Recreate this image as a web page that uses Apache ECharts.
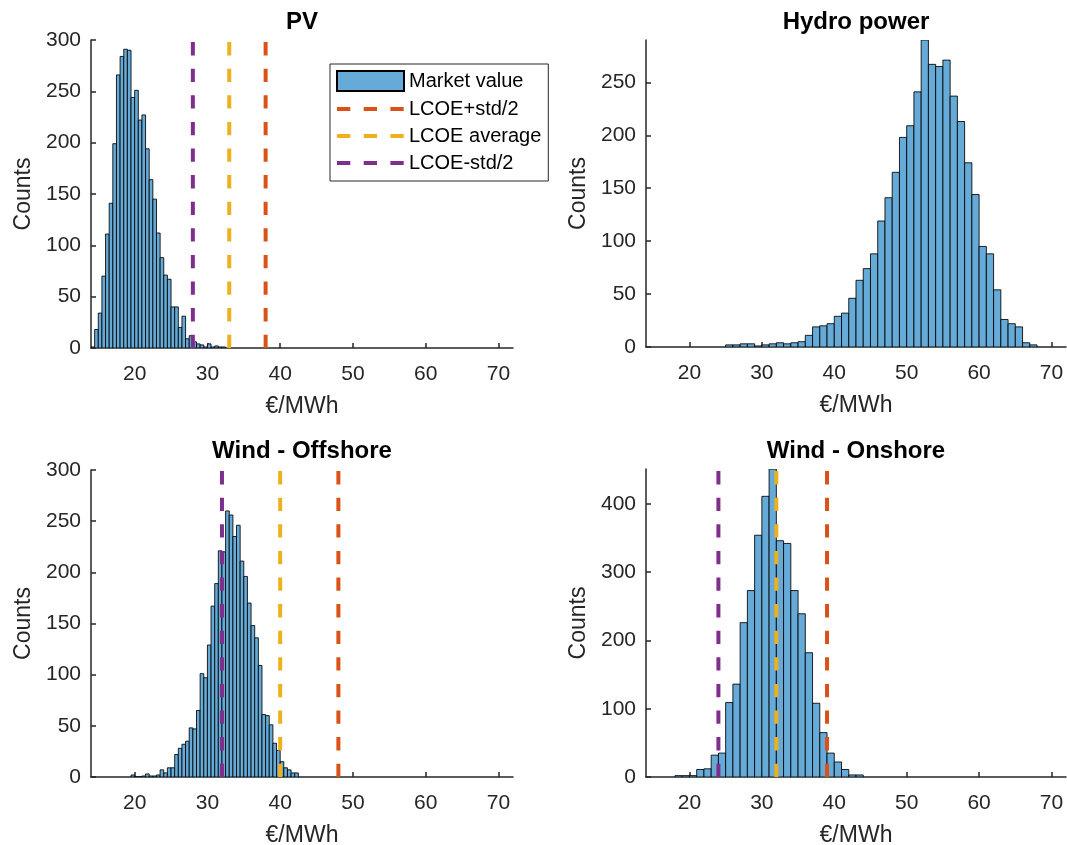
<!DOCTYPE html>
<html><head><meta charset="utf-8">
<script src="https://cdn.jsdelivr.net/npm/echarts@6/dist/echarts.min.js"></script>
<style>html,body{margin:0;padding:0;background:#fff}#main{width:1067px;height:845px}</style>
</head><body><div id="main"></div>
<script>
// ---- data ----
const titles = ['PV', 'Hydro power', 'Wind - Offshore', 'Wind - Onshore'];
const xTicks = [20, 30, 40, 50, 60, 70];
const xMin = 14, xMax = 72;
const yMaxes = [300, 290, 300, 451];
const yTicksPV = [0, 50, 100, 150, 200, 250, 300];
const yTicksHydro = [0, 50, 100, 150, 200, 250];
const yTicksOff = [0, 50, 100, 150, 200, 250, 300];
const yTicksOn = [0, 100, 200, 300, 400];

const pvBinStart = 14.0, pvBinWidth = 0.5;
const pvCounts = [1, 18, 34, 70, 111, 141, 199, 266, 284, 291, 290, 244, 251, 222, 227, 194, 164, 145, 112, 88, 71, 67, 40, 40, 20, 31, 9, 12, 6, 4, 3, 1, 4, 1, 2, 1, 1];
const hydroBinStart = 25, hydroBinWidth = 1;
const hydroCounts = [2, 2, 3, 3, 1, 2, 3, 4, 3, 4, 5, 11, 19, 20, 22, 29, 32, 46, 63, 74, 88, 119, 141, 165, 198, 209, 241, 290, 267, 265, 271, 237, 213, 174, 144, 95, 88, 54, 26, 22, 19, 4, 2];
const offBinStart = 19.5, offBinWidth = 0.5;
const offCounts = [2, 0, 0, 1, 3, 1, 1, 2, 7, 4, 9, 9, 22, 28, 32, 35, 48, 47, 65, 101, 97, 129, 167, 189, 221, 220, 260, 256, 235, 246, 211, 196, 170, 148, 136, 109, 61, 60, 51, 33, 26, 15, 9, 7, 4, 4];
const onBinStart = 18, onBinWidth = 1;
const onCounts = [2, 2, 2, 11, 12, 32, 35, 109, 136, 226, 273, 354, 411, 451, 346, 342, 273, 239, 182, 108, 65, 35, 22, 11, 3, 3];

const lineNames = ['LCOE+std/2', 'LCOE average', 'LCOE-std/2'];
const pvLcoe = [38, 33, 28];
const offLcoe = [48, 40, 32];
const onLcoe = [39, 32, 24];

// ---- styling ----
const FONT = "'Liberation Sans', Arial, Helvetica, sans-serif";
const AX = '#262626';
const barFill = '#66AAD7';
const lineColors = ['#D95319', '#EDB120', '#7E2F8E'];
const grids = [
  {left: 91, top: 40, width: 422, height: 308, containLabel: false, outerBoundsMode: 'none'},
  {left: 646, top: 40, width: 420, height: 307, containLabel: false, outerBoundsMode: 'none'},
  {left: 91, top: 470, width: 422, height: 307, containLabel: false, outerBoundsMode: 'none'},
  {left: 646, top: 469, width: 420, height: 308, containLabel: false, outerBoundsMode: 'none'}
];
const yTicks = [yTicksPV, yTicksHydro, yTicksOff, yTicksOn];
const dashIcon = 'path://M0,0h0.01v0.01h-0.01z M0,8h13.3v4h-13.3z M26.7,8h13.3v4h-13.3z M53.4,8h13.3v4h-13.3z M66.99,19.99h0.01v0.01h-0.01z';

function binData(start, width, counts) {
  return counts.map((c, i) => [start + i * width, start + (i + 1) * width, c]);
}
const hists = [
  binData(pvBinStart, pvBinWidth, pvCounts),
  binData(hydroBinStart, hydroBinWidth, hydroCounts),
  binData(offBinStart, offBinWidth, offCounts),
  binData(onBinStart, onBinWidth, onCounts)
];
const lcoes = [pvLcoe, null, offLcoe, onLcoe];

function renderBar(params, api) {
  const p0 = api.coord([api.value(0), api.value(2)]);
  const p1 = api.coord([api.value(1), 0]);
  return {
    type: 'rect',
    shape: {x: p0[0], y: p0[1], width: p1[0] - p0[0], height: p1[1] - p0[1]},
    style: {fill: barFill, stroke: 'rgba(0,0,0,0.85)', lineWidth: 1}
  };
}

const xAxes = [], yAxes = [], series = [], graphics = [];
grids.forEach((g, i) => {
  xAxes.push({
    type: 'value', gridIndex: i, min: xMin, max: xMax,
    name: '€/MWh', nameLocation: 'middle', nameGap: 47,
    nameTextStyle: {fontFamily: FONT, fontSize: 23, color: AX},
    axisLine: {show: true, lineStyle: {color: AX, width: 1.5}},
    axisTick: {show: true, inside: true, length: 5, customValues: xTicks, lineStyle: {color: AX, width: 1.5}},
    axisLabel: {customValues: xTicks, margin: 16, fontFamily: FONT, fontSize: 21, color: AX},
    splitLine: {show: false}
  });
  yAxes.push({
    type: 'value', gridIndex: i, min: 0, max: yMaxes[i],
    name: 'Counts', nameLocation: 'middle', nameGap: 56, nameRotate: 90,
    nameTextStyle: {fontFamily: FONT, fontSize: 23, color: AX},
    axisLine: {show: true, lineStyle: {color: AX, width: 1.5}},
    axisTick: {show: true, inside: true, length: 5, customValues: yTicks[i], lineStyle: {color: AX, width: 1.5}},
    axisLabel: {customValues: yTicks[i], margin: 10, fontFamily: FONT, fontSize: 21, color: AX},
    splitLine: {show: false}
  });
  series.push({
    type: 'custom', name: 'Market value', xAxisIndex: i, yAxisIndex: i,
    renderItem: renderBar, data: hists[i], clip: true, z: 2,
    encode: {x: [0, 1], y: 2},
    itemStyle: {color: barFill, borderColor: '#000', borderWidth: 1}
  });
  if (lcoes[i]) {
    lcoes[i].forEach((v, k) => {
      series.push({
        type: 'line', name: lineNames[k], xAxisIndex: i, yAxisIndex: i,
        data: [[v, 0], [v, yMaxes[i]]], symbol: 'none', z: 3,
        color: lineColors[k],
        lineStyle: {color: lineColors[k], width: 4, type: [13.3, 13.3]},
        itemStyle: {color: lineColors[k]},
        silent: true, animation: false
      });
    });
  }
  graphics.push({
    type: 'text', x: g.left + g.width / 2, y: i < 2 ? 10 : 439,
    style: {text: titles[i], align: 'center', verticalAlign: 'top', fontFamily: FONT, fontSize: 24, fontWeight: 'bold', fill: '#000'}
  });
});

const chart = echarts.init(document.getElementById('main'), null, {renderer: 'canvas'});
chart.setOption({
  animation: false,
  backgroundColor: '#fff',
  grid: grids,
  xAxis: xAxes,
  yAxis: yAxes,
  series: series,
  graphic: graphics,
  legend: {
    orient: 'vertical', left: 330, top: 64,
    data: [
      {name: 'Market value', icon: 'rect'},
      {name: lineNames[0], icon: dashIcon, itemStyle: {color: lineColors[0], borderWidth: 0}},
      {name: lineNames[1], icon: dashIcon, itemStyle: {color: lineColors[1], borderWidth: 0}},
      {name: lineNames[2], icon: dashIcon, itemStyle: {color: lineColors[2], borderWidth: 0}}
    ],
    itemWidth: 67, itemHeight: 20, itemGap: 7,
    padding: [6, 7, 8, 6],
    borderColor: AX, borderWidth: 1, backgroundColor: '#fff',
    textStyle: {fontFamily: FONT, fontSize: 20, color: '#000'},
    selectedMode: false
  }
});
</script>
</body></html>
